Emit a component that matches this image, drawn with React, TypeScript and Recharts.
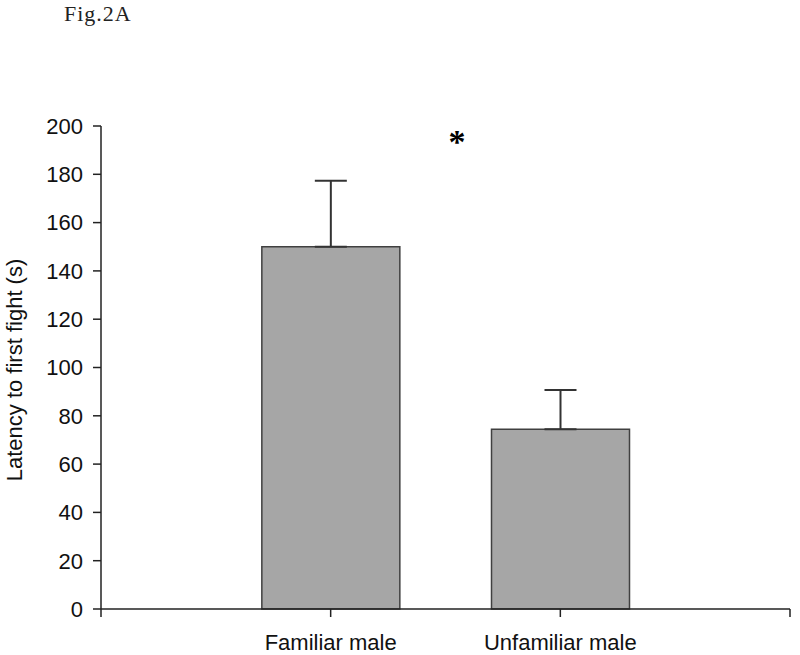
import React from "react";
import { BarChart, Bar, XAxis, YAxis, ErrorBar, ReferenceDot, Label } from "recharts";

const categories = ["", "Familiar male", "Unfamiliar male", ""];
const positions = [1, 2];
const means = [150, 74.4];
const upperErrors = [27.3, 16.3];
const yTicks = [0, 20, 40, 60, 80, 100, 120, 140, 160, 180, 200];
const xTicks = [0, 1, 2, 3];

const data = positions.map((p, i) => ({
  pos: p,
  name: categories[p],
  value: means[i],
  err: [0, upperErrors[i]],
}));

const sans = "'Liberation Sans', Arial, sans-serif";
const serif = "'Liberation Serif', 'Times New Roman', serif";

const Star = (props: any) => (
  <text
    x={props.cx}
    y={props.cy}
    dy="0.47em"
    textAnchor="middle"
    fontFamily={serif}
    fontWeight="bold"
    fontSize={34}
    fill="#000"
  >
    *
  </text>
);

export default function App() {
  return (
    <div style={{ position: "absolute", left: 0, top: 0, width: 800, height: 655, background: "#fff" }}>
      <div
        style={{
          position: "absolute",
          left: 64,
          top: 1,
          fontFamily: serif,
          fontSize: 22,
          letterSpacing: 1,
          color: "#222",
        }}
      >
        Fig.2A
      </div>
      <BarChart width={800} height={655} data={data} margin={{ top: 126, right: 10, bottom: 0, left: 0 }}>
        <XAxis
          dataKey="pos"
          type="number"
          domain={[0, 3]}
          ticks={xTicks}
          tickFormatter={(v: number) => categories[v] ?? ""}
          height={46}
          tickSize={8}
          tickMargin={17}
          stroke="#222"
          strokeWidth={1.5}
          tick={{ fill: "#111", fontFamily: sans, fontSize: 22 }}
          interval={0}
        />
        <YAxis
          type="number"
          domain={[0, 200]}
          ticks={yTicks}
          width={101}
          tickSize={8}
          tickMargin={10}
          stroke="#222"
          strokeWidth={1.5}
          tick={{ fill: "#111", fontFamily: sans, fontSize: 22 }}
          interval={0}
        >
          <Label
            content={() => (
              <text
                x={22}
                y={370}
                transform="rotate(-90, 22, 370)"
                textAnchor="middle"
                fontFamily={sans}
                fontSize={22}
                fill="#111"
              >
                Latency to first fight (s)
              </text>
            )}
          />
        </YAxis>
        <Bar dataKey="value" barSize={138} fill="#a6a6a6" stroke="#404040" strokeWidth={1.5} isAnimationActive={false}>
          <ErrorBar dataKey="err" direction="y" width={16} stroke="#333" strokeWidth={2} />
        </Bar>
        <ReferenceDot x={1.55} y={195.4} r={0} shape={Star} />
      </BarChart>
    </div>
  );
}
